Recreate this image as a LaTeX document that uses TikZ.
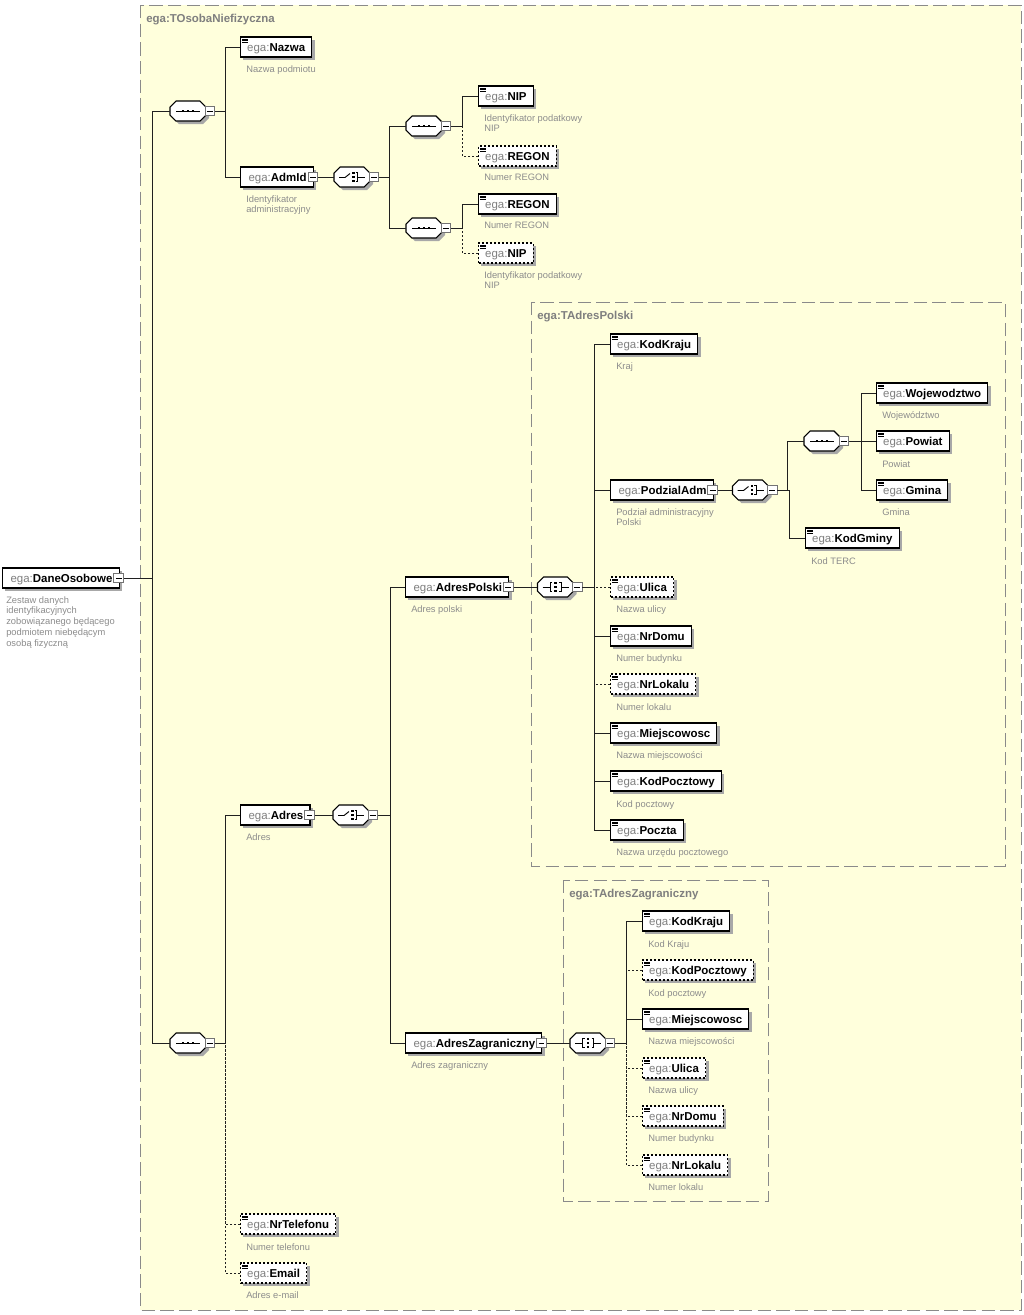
\documentclass[tikz,border=0pt]{standalone}
\usepackage{fontspec}
\setmainfont{Liberation Sans}
\usetikzlibrary{calc}
\definecolor{bgy}{HTML}{FFFFDC}
\definecolor{frameg}{HTML}{8A8A8A}
\definecolor{txtg}{HTML}{7F7F7F}
\definecolor{descg}{HTML}{8C8C8C}
\definecolor{lnc}{HTML}{202020}
\definecolor{shd}{HTML}{A8A8A8}
\newcommand\en[1]{{\color{txtg}ega:}\textbf{#1}}
\newcommand\enp[1]{\hspace{1pt}{\color{txtg}ega:}\textbf{#1}\hspace{5.5pt}}
\newcommand\lic[1]{\foreach \i in {0,1,2}{\draw[black, line width=0.4pt] ($(#1.north west)+(2,2.3+1.7*\i)$) -- ++(5.5,0);}}
\newcommand\octo[1]{%
 \fill[shd,shift={($(#1.center)+(3,3)$)}] (-18,-4) -- (-12,-10) -- (12,-10) -- (18,-4) -- (18,4) -- (12,10) -- (-12,10) -- (-18,4) -- cycle;
 \draw[black,fill=white,line width=0.8pt,shift={(#1.center)}] (-18,-4) -- (-12,-10) -- (12,-10) -- (18,-4) -- (18,4) -- (12,10) -- (-12,10) -- (-18,4) -- cycle;}
\newcommand\seqic[1]{\octo{#1}\begin{scope}[shift={(#1.center)}]
 \draw[black,line width=0.7pt] (-12,0) -- (12,0);
 \foreach \x in {-5,0,5} \fill[black] (\x-1.4,-1.4) rectangle (\x+1.4,1.4);
\end{scope}}
\newcommand\choic[1]{\octo{#1}\begin{scope}[shift={(#1.center)}, line width=0.7pt]
 \draw (-13,0.5) -- (-7,0.5) -- (-2,-3.5);
 \foreach \y in {-4,0,4} \fill (0.3,\y-1.1) rectangle (2.5,\y+1.1);
 \draw (3.5,-4.5) -- (5.5,-4.5) -- (5.5,4.5) -- (3.5,4.5);
 \draw (5.5,0) -- (13,0);
\end{scope}}
\newcommand\allic[1]{\octo{#1}\begin{scope}[shift={(#1.center)}, line width=0.7pt]
 \draw (-13,0) -- (-5.5,0);
 \draw (-3.5,-4.5) -- (-5.5,-4.5) -- (-5.5,4.5) -- (-3.5,4.5);
 \foreach \y in {-4,0,4} \fill (-1.1,\y-1.1) rectangle (1.1,\y+1.1);
 \draw (3.5,-4.5) -- (5.5,-4.5) -- (5.5,4.5) -- (3.5,4.5);
 \draw (5.5,0) -- (13,0);
\end{scope}}
\tikzset{
  elem/.style={draw=black, fill=white, line width=0.8pt, minimum height=15pt, text height=6.3pt, text depth=0.2pt, inner xsep=5pt, inner ysep=0pt, anchor=west, font=\fontsize{8.6}{10}\selectfont, text=black, preaction={fill=shd, transform canvas={shift={(2.2pt,-2.2pt)}}}},
  opt/.style={dash pattern=on 1.5pt off 1.5pt},
  desc/.style={anchor=north west, inner sep=0pt, align=left, font=\fontsize{7}{8.1}\selectfont, text=descg},
  mbox/.style={draw=black!55, fill=white, line width=0.6pt, minimum size=7.2pt, inner sep=0pt, path picture={\draw[black, line width=0.6pt] ([xshift=-2.2pt]path picture bounding box.center) -- ([xshift=2.2pt]path picture bounding box.center);}},
  sym/.style={rectangle, draw=none, minimum width=27pt, minimum height=15pt, inner sep=0pt},
  conn/.style={draw=lnc, line width=0.75pt},
  oconn/.style={conn, dash pattern=on 1.5pt off 1.5pt},
  frame/.style={draw=frameg, line width=0.75pt, dash pattern=on 10pt off 4pt},
  flabel/.style={anchor=base west, inner sep=0pt, font=\bfseries\fontsize{8.6}{10}\selectfont, text=txtg},
}
\begin{document}
\begin{tikzpicture}[x=0.75pt,y=-0.75pt]
\useasboundingbox (0,0) rectangle (1024,1315);
\fill[white] (0,0) rectangle (1024,1315);
% frames
\path[frame, fill=bgy] (140,5) rectangle (1021,1310);
\node[flabel] (fl1) at (146,22) {ega:TOsobaNiefizyczna};
\path[frame] (531,302) rectangle (1005,866);
\node[flabel] (fl2) at (537,319) {ega:TAdresPolski};
\path[frame] (563,880) rectangle (768,1201);
\node[flabel] (fl3) at (569,897) {ega:TAdresZagraniczny};

% root
\node[elem] (root) at (2,578) {\enp{DaneOsobowe}};
\node[mbox] (rootm) at ($(root.east)+(-1,0)$) {};
\node[desc] at (6,596) {Zestaw danych\\identyfikacyjnych\\zobowiązanego będącego\\podmiotem niebędącym\\osobą fizyczną};

% symbols
\node[sym] (s1) at (188,111) {}; \seqic{s1} \node[mbox] (s1m) at ($(s1.east)+(3.5,0)$) {};
\node[sym] (s2) at (188,1043) {}; \seqic{s2} \node[mbox] (s2m) at ($(s2.east)+(3.5,0)$) {};
\node[sym] (c1) at (352,177) {}; \choic{c1} \node[mbox] (c1m) at ($(c1.east)+(3.5,0)$) {};
\node[sym] (s3) at (424,126) {}; \seqic{s3} \node[mbox] (s3m) at ($(s3.east)+(3.5,0)$) {};
\node[sym] (s4) at (424,228) {}; \seqic{s4} \node[mbox] (s4m) at ($(s4.east)+(3.5,0)$) {};
\node[sym] (c2) at (351,815) {}; \choic{c2} \node[mbox] (c2m) at ($(c2.east)+(3.5,0)$) {};
\node[sym] (a1) at (555.5,587) {}; \allic{a1} \node[mbox] (a1m) at ($(a1.east)+(3.5,0)$) {};
\node[sym] (c3) at (750.5,490) {}; \choic{c3} \node[mbox] (c3m) at ($(c3.east)+(3.5,0)$) {};
\node[sym] (s5) at (822,441) {}; \seqic{s5} \node[mbox] (s5m) at ($(s5.east)+(3.5,0)$) {};
\node[sym] (a2) at (588,1043) {}; \allic{a2} \node[mbox] (a2m) at ($(a2.east)+(3.5,0)$) {};

% level 1
\node[elem] (nazwa) at (240,47) {\en{Nazwa}}; \lic{nazwa}
\node[desc] at (246,65) {Nazwa podmiotu};
\node[elem] (admid) at (240,177) {\enp{AdmId}};
\node[mbox] (admidm) at ($(admid.east)+(-1,0)$) {};
\node[desc] at (246,195) {Identyfikator\\administracyjny};

\node[elem] (nip1) at (478,96) {\en{NIP}}; \lic{nip1}
\node[desc] at (484,114) {Identyfikator podatkowy\\NIP};
\node[elem,opt] (regon1) at (478,156) {\en{REGON}}; \lic{regon1}
\node[desc] at (484,174) {Numer REGON};
\node[elem] (regon2) at (478,204) {\en{REGON}}; \lic{regon2}
\node[desc] at (484,222) {Numer REGON};
\node[elem,opt] (nip2) at (478,253) {\en{NIP}}; \lic{nip2}
\node[desc] at (484,271) {Identyfikator podatkowy\\NIP};

\node[elem] (adres) at (240,815) {\enp{Adres}};
\node[mbox] (adresm) at ($(adres.east)+(-1,0)$) {};
\node[desc] at (246,833) {Adres};
\node[elem,opt] (nrtel) at (240,1224) {\en{NrTelefonu}}; \lic{nrtel}
\node[desc] at (246,1243) {Numer telefonu};
\node[elem,opt] (email) at (240,1273) {\en{Email}}; \lic{email}
\node[desc] at (246,1291) {Adres e-mail};

\node[elem] (adrespl) at (405,587) {\enp{AdresPolski}};
\node[mbox] (adresplm) at ($(adrespl.east)+(-1,0)$) {};
\node[desc] at (411,605) {Adres polski};
\node[elem] (adreszag) at (405,1043) {\enp{AdresZagraniczny}};
\node[mbox] (adreszagm) at ($(adreszag.east)+(-1,0)$) {};
\node[desc] at (411,1061) {Adres zagraniczny};

% TAdresPolski
\node[elem] (kodkraju) at (610,344) {\en{KodKraju}}; \lic{kodkraju}
\node[desc] at (616,362) {Kraj};
\node[elem] (podzial) at (610,490) {\enp{PodzialAdm}};
\node[mbox] (podzialm) at ($(podzial.east)+(-1,0)$) {};
\node[desc] at (616,508) {Podział administracyjny\\Polski};
\node[elem,opt] (ulica) at (610,587) {\en{Ulica}}; \lic{ulica}
\node[desc] at (616,605) {Nazwa ulicy};
\node[elem] (nrdomu) at (610,636) {\en{NrDomu}}; \lic{nrdomu}
\node[desc] at (616,654) {Numer budynku};
\node[elem,opt] (nrlokalu) at (610,684) {\en{NrLokalu}}; \lic{nrlokalu}
\node[desc] at (616,703) {Numer lokalu};
\node[elem] (miejsc) at (610,733) {\en{Miejscowosc}}; \lic{miejsc}
\node[desc] at (616,751) {Nazwa miejscowości};
\node[elem] (kodpoczt) at (610,781) {\en{KodPocztowy}}; \lic{kodpoczt}
\node[desc] at (616,800) {Kod pocztowy};
\node[elem] (poczta) at (610,830) {\en{Poczta}}; \lic{poczta}
\node[desc] at (616,848) {Nazwa urzędu pocztowego};

\node[elem] (woj) at (876,393) {\en{Wojewodztwo}}; \lic{woj}
\node[desc] at (882,411) {Województwo};
\node[elem] (powiat) at (876,441) {\en{Powiat}}; \lic{powiat}
\node[desc] at (882,460) {Powiat};
\node[elem] (gmina) at (876,490) {\en{Gmina}}; \lic{gmina}
\node[desc] at (882,508) {Gmina};
\node[elem] (kodgminy) at (805,538) {\en{KodGminy}}; \lic{kodgminy}
\node[desc] at (811,557) {Kod TERC};

% TAdresZagraniczny
\node[elem] (zkodkraju) at (642,921) {\en{KodKraju}}; \lic{zkodkraju}
\node[desc] at (648,940) {Kod Kraju};
\node[elem,opt] (zkodpoczt) at (642,970) {\en{KodPocztowy}}; \lic{zkodpoczt}
\node[desc] at (648,989) {Kod pocztowy};
\node[elem] (zmiejsc) at (642,1019) {\en{Miejscowosc}}; \lic{zmiejsc}
\node[desc] at (648,1037) {Nazwa miejscowości};
\node[elem,opt] (zulica) at (642,1068) {\en{Ulica}}; \lic{zulica}
\node[desc] at (648,1086) {Nazwa ulicy};
\node[elem,opt] (znrdomu) at (642,1116) {\en{NrDomu}}; \lic{znrdomu}
\node[desc] at (648,1134) {Numer budynku};
\node[elem,opt] (znrlokalu) at (642,1165) {\en{NrLokalu}}; \lic{znrlokalu}
\node[desc] at (648,1183) {Numer lokalu};

% connectors: optional first
\draw[oconn] (regon1.west) -- ++(-16,0) |- (s3m.east);
\draw[oconn] (nip2.west) -- ++(-16,0) |- (s4m.east);
\draw[oconn] (nrtel.west) -- ++(-15,0) |- (s2m.east);
\draw[oconn] (email.west) -- ++(-15,0) |- (s2m.east);
\draw[oconn] (ulica.west) -- ++(-16,0) |- (a1m.east);
\draw[oconn] (nrlokalu.west) -- ++(-16,0) |- (a1m.east);
\draw[oconn] (zkodpoczt.west) -- ++(-16,0) |- (a2m.east);
\draw[oconn] (zulica.west) -- ++(-16,0) |- (a2m.east);
\draw[oconn] (znrdomu.west) -- ++(-16,0) |- (a2m.east);
\draw[oconn] (znrlokalu.west) -- ++(-16,0) |- (a2m.east);
% solid
\draw[conn] (s1.west) -- ++(-17,0) |- (rootm.east);
\draw[conn] (s2.west) -- ++(-17,0) |- (rootm.east);
\draw[conn] (nazwa.west) -- ++(-15,0) |- (s1m.east);
\draw[conn] (admid.west) -- ++(-15,0) |- (s1m.east);
\draw[conn] (admidm.east) -- (c1.west);
\draw[conn] (s3.west) -- ++(-16,0) |- (c1m.east);
\draw[conn] (s4.west) -- ++(-16,0) |- (c1m.east);
\draw[conn] (nip1.west) -- ++(-16,0) |- (s3m.east);
\draw[conn] (regon2.west) -- ++(-16,0) |- (s4m.east);
\draw[conn] (adres.west) -- ++(-15,0) |- (s2m.east);
\draw[conn] (adresm.east) -- (c2.west);
\draw[conn] (adrespl.west) -- ++(-15,0) |- (c2m.east);
\draw[conn] (adreszag.west) -- ++(-15,0) |- (c2m.east);
\draw[conn] (adresplm.east) -- (a1.west);
\draw[conn] (adreszagm.east) -- (a2.west);
\draw[conn] (kodkraju.west) -- ++(-16,0) |- (a1m.east);
\draw[conn] (podzial.west) -- ++(-16,0) |- (a1m.east);
\draw[conn] (nrdomu.west) -- ++(-16,0) |- (a1m.east);
\draw[conn] (miejsc.west) -- ++(-16,0) |- (a1m.east);
\draw[conn] (kodpoczt.west) -- ++(-16,0) |- (a1m.east);
\draw[conn] (poczta.west) -- ++(-16,0) |- (a1m.east);
\draw[conn] (podzialm.east) -- (c3.west);
\draw[conn] (s5.west) -- ++(-16,0) |- (c3m.east);
\draw[conn] (kodgminy.west) -- ++(-16,0) |- (c3m.east);
\draw[conn] (woj.west) -- ++(-15,0) |- (s5m.east);
\draw[conn] (powiat.west) -- ++(-15,0) |- (s5m.east);
\draw[conn] (gmina.west) -- ++(-15,0) |- (s5m.east);
\draw[conn] (zkodkraju.west) -- ++(-16,0) |- (a2m.east);
\draw[conn] (zmiejsc.west) -- ++(-16,0) |- (a2m.east);
\end{tikzpicture}
\end{document}
